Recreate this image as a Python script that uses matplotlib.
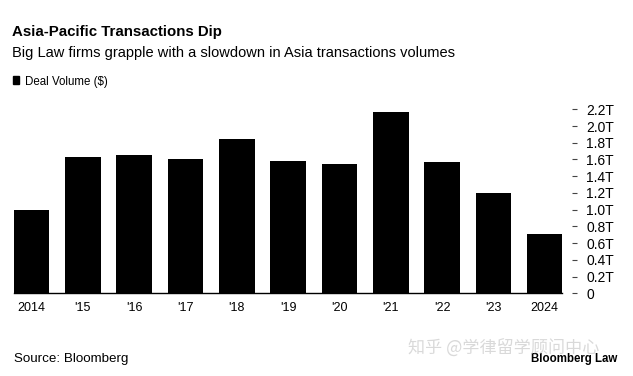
import matplotlib
matplotlib.use("Agg")
import matplotlib.pyplot as plt
from matplotlib.patches import Rectangle

plt.rcParams['font.family'] = ['Liberation Sans', 'DejaVu Sans']

# Asia-Pacific deal volume, trillions of dollars
years = ['2014', "'15", "'16", "'17", "'18", "'19", "'20", "'21", "'22", "'23", '2024']
deal_volume = [1.00, 1.63, 1.65, 1.60, 1.845, 1.58, 1.55, 2.165, 1.565, 1.20, 0.705]
ytick_vals = [0, 0.2, 0.4, 0.6, 0.8, 1.0, 1.2, 1.4, 1.6, 1.8, 2.0, 2.2]
ytick_labels = ['0', '0.2T', '0.4T', '0.6T', '0.8T', '1.0T', '1.2T',
                '1.4T', '1.6T', '1.8T', '2.0T', '2.2T']

fig = plt.figure(figsize=(6.33, 3.76), dpi=100)
ax = fig.add_axes([0.0216, 0.22, 0.867, 0.4893])

x = range(len(years))
ax.bar(x, deal_volume, width=0.694, color='black')

ax.set_xlim(-0.347, len(years) - 1 + 0.347)
ax.set_ylim(0, 2.2)
ax.set_xticks(list(x))
ax.set_xticklabels(years, fontsize=9)
ax.tick_params(axis='x', length=0, pad=6)

ax.yaxis.tick_right()
ax.set_yticks(ytick_vals)
ax.set_yticklabels(ytick_labels, fontsize=9)
ax.tick_params(axis='y', length=3.6, width=0.8, color='#444444', pad=7)
for lbl in ax.get_yticklabels():
    lbl.set_horizontalalignment('left')

for side in ['top', 'left']:
    ax.spines[side].set_visible(False)
ax.spines['right'].set_position(('outward', 6.5))
ax.spines['right'].set_visible(False)
ax.spines['bottom'].set_linewidth(1.0)

# header
fig.text(0.019, 0.905, 'Asia-Pacific Transactions Dip', fontsize=10.8,
         fontweight='bold', va='baseline')
fig.text(0.019, 0.848, 'Big Law firms grapple with a slowdown in Asia transactions volumes',
         fontsize=10.5, va='baseline')
# legend key
fig.patches.append(Rectangle((0.0200, 0.777), 0.0105, 0.0205, color='black',
                             transform=fig.transFigure, figure=fig))
fig.text(0.039, 0.775, 'Deal Volume ($)', fontsize=8.3, va='baseline')

# footer
fig.text(0.022, 0.038, 'Source: Bloomberg', fontsize=9.6, va='baseline')
fig.text(0.975, 0.038, 'Bloomberg Law', fontsize=8.3, fontweight='bold',
         ha='right', va='baseline')
fig.text(0.645, 0.058, '知乎 @学律留学顾问中心', fontsize=12.3, color='#d0d0d0',
         va='baseline', family=['Noto Sans CJK SC', 'DejaVu Sans'], alpha=0.8)

fig.savefig('out.png', dpi=100)
